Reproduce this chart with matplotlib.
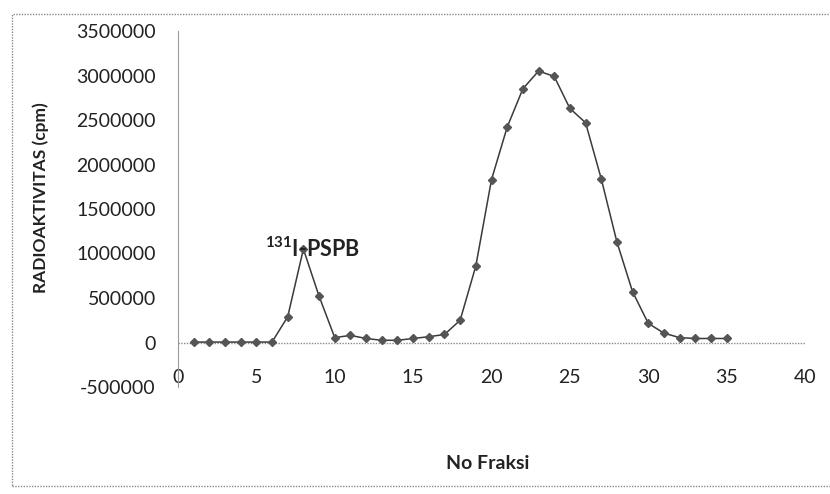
import matplotlib.pyplot as plt
from matplotlib.patches import Rectangle

plt.rcParams["font.family"] = ["Lato", "DejaVu Sans"]
plt.rcParams["mathtext.fontset"] = "custom"
plt.rcParams["mathtext.rm"] = "Lato:bold"
plt.rcParams["mathtext.default"] = "rm"

# fraction number vs. radioactivity (cpm)
fraksi = list(range(1, 36))
cpm = [
    5000, 5000, 5000, 5000, 5000, 5000, 290000, 1050000, 520000, 55000,
    80000, 45000, 25000, 25000, 45000, 65000, 90000, 250000, 860000, 1830000,
    2420000, 2850000, 3050000, 2990000, 2630000, 2470000, 1840000, 1130000,
    570000, 215000, 105000, 55000, 45000, 45000, 45000,
]
x_ticks = [0, 5, 10, 15, 20, 25, 30, 35, 40]
y_ticks = [-500000, 0, 500000, 1000000, 1500000, 2000000, 2500000, 3000000, 3500000]

W, H = 830, 494
fig = plt.figure(figsize=(W / 100, H / 100), dpi=100)
ax = fig.add_axes([178 / W, 1 - 387 / H, (805 - 178) / W, (387 - 31) / H])

ax.plot(fraksi, cpm, color="#3a3a3a", linewidth=1.1, marker="D",
        markersize=4, markerfacecolor="#555555", markeredgecolor="#555555", zorder=3)

ax.set_xlim(0, 40)
ax.set_ylim(-500000, 3500000)
ax.set_xticks(x_ticks)
ax.set_yticks(y_ticks)
ax.set_yticklabels([str(v) for v in y_ticks])

for side in ("top", "right", "bottom"):
    ax.spines[side].set_visible(False)
ax.spines["left"].set_color("#9a9a9a")
ax.spines["left"].set_linestyle((0, (1, 1)))
ax.axhline(0, color="#8a8a8a", linewidth=1, linestyle=(0, (1, 1)), zorder=1)

ax.tick_params(axis="x", length=0, pad=-13, labelsize=14, labelcolor="#222222")
ax.tick_params(axis="y", length=0, pad=16, labelsize=14, labelcolor="#222222")

ax.text(5.55, 960000, r"$^{131}$I-PSPB", fontsize=15.5, fontweight="bold",
        color="#222222", va="baseline", ha="left", zorder=4)

fig.text(488 / W, 1 - 463 / H, "No Fraksi", fontsize=14, fontweight="bold",
         ha="center", va="center", color="#222222")
fig.text(41 / W, 1 - 198 / H, "RADIOAKTIVITAS (cpm)", fontsize=12.5, fontweight="bold",
         rotation=90, ha="center", va="center", color="#222222")

frame = Rectangle((12 / W, 1 - 486 / H), 1.2, (486 - 14) / H, transform=fig.transFigure,
                  fill=False, edgecolor="#8a8a8a", linewidth=1, linestyle=(0, (1, 1)),
                  clip_on=False)
fig.patches.append(frame)

fig.savefig("out.png", dpi=100)
